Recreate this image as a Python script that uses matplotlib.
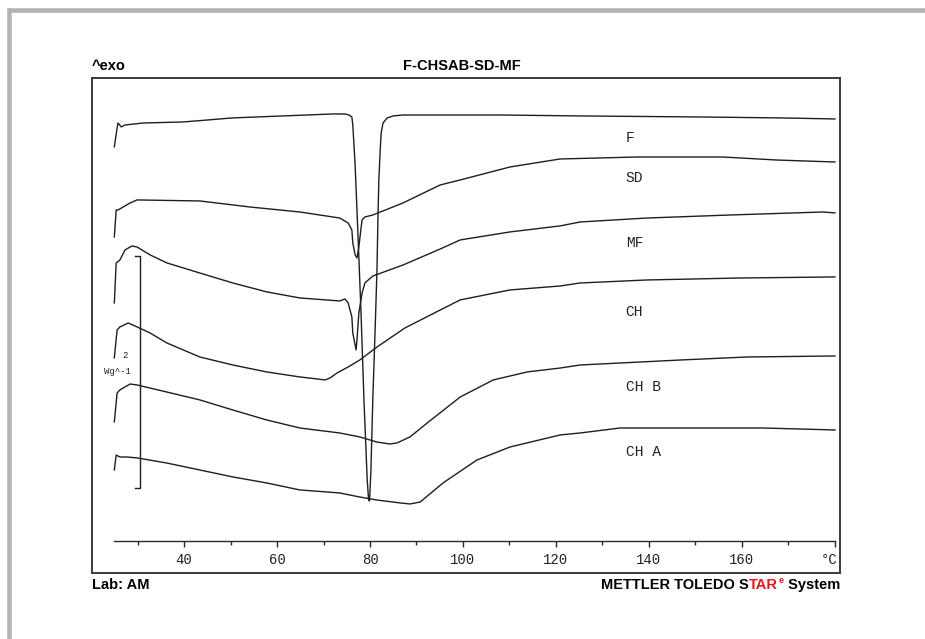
import matplotlib
matplotlib.use('Agg')
import matplotlib.pyplot as plt
from matplotlib.lines import Line2D

# ---------------- data (temperature in °C, heat flow in W/g, curves offset as drawn) ----------------
F_T = [25.0, 25.6, 25.8, 26.5, 27.3, 31.2, 39.8, 50.5, 61.3, 72.0, 74.6, 75.5, 76.1, 76.3, 76.8,
       77.4, 78.1, 78.7, 79.4, 79.7, 79.9, 80.2, 80.6, 81.1, 81.5, 81.7, 81.9, 82.2, 82.4, 82.8,
       83.7, 85.0, 87.1, 97.2, 108.0, 125.2, 151.0, 168.2, 180.0]
F_W = [3.397, 3.560, 3.603, 3.569, 3.586, 3.603, 3.612, 3.647, 3.664, 3.681, 3.681, 3.672, 3.655, 3.586, 3.241,
       2.655, 1.931, 1.216, 0.526, 0.353, 0.345, 0.612, 1.216, 1.819, 2.336, 2.767, 3.112, 3.371, 3.517, 3.603,
       3.647, 3.664, 3.672, 3.672, 3.672, 3.664, 3.655, 3.647, 3.638]

SD_T = [25.0, 25.4, 25.8, 26.9, 28.4, 29.9, 43.4, 54.2, 64.9, 73.5, 75.3, 76.1, 76.3, 76.8, 77.2,
        77.6, 78.1, 78.3, 78.9, 80.6, 87.1, 95.1, 99.4, 110.1, 120.9, 137.4, 155.9, 167.5, 180.0]
SD_W = [2.621, 2.853, 2.853, 2.879, 2.914, 2.940, 2.931, 2.879, 2.836, 2.784, 2.741, 2.681, 2.569, 2.466, 2.440,
        2.534, 2.707, 2.767, 2.793, 2.810, 2.914, 3.069, 3.112, 3.224, 3.293, 3.310, 3.310, 3.284, 3.267]

MF_T = [25.0, 25.4, 26.2, 27.3, 28.8, 29.9, 32.7, 36.3, 43.4, 50.5, 57.8, 64.9, 73.5, 74.6, 75.3,
        76.1, 76.3, 77.0, 77.2, 77.6, 78.3, 78.9, 80.6, 87.1, 95.1, 99.4, 110.1, 120.9, 125.2, 139.6,
        157.4, 177.4, 180.0]
MF_W = [2.052, 2.397, 2.422, 2.509, 2.543, 2.534, 2.466, 2.397, 2.310, 2.224, 2.147, 2.095, 2.069, 2.086, 2.052,
        1.931, 1.793, 1.647, 1.733, 1.966, 2.138, 2.224, 2.284, 2.379, 2.517, 2.595, 2.664, 2.716, 2.750, 2.784,
        2.810, 2.836, 2.828]

CH_T = [25.0, 25.6, 26.2, 28.0, 29.9, 32.7, 36.3, 43.4, 50.5, 57.8, 64.9, 68.6, 70.3, 71.4, 72.9,
        75.3, 77.8, 81.5, 87.5, 95.1, 99.4, 110.1, 120.9, 125.2, 139.6, 159.6, 180.0]
CH_W = [1.578, 1.819, 1.845, 1.879, 1.845, 1.793, 1.707, 1.586, 1.517, 1.457, 1.414, 1.397, 1.388, 1.405, 1.448,
        1.500, 1.560, 1.672, 1.836, 1.991, 2.078, 2.164, 2.198, 2.224, 2.250, 2.267, 2.276]

CHB_T = [25.0, 25.6, 26.2, 27.3, 28.4, 29.9, 36.3, 43.4, 50.5, 57.8, 64.9, 73.5, 77.8, 81.5, 84.3,
         85.8, 88.6, 92.3, 99.4, 106.5, 113.8, 120.9, 125.2, 146.7, 161.1, 180.0]
CHB_W = [1.026, 1.276, 1.302, 1.328, 1.353, 1.345, 1.284, 1.216, 1.129, 1.043, 0.974, 0.931, 0.897, 0.853, 0.836,
         0.845, 0.897, 1.017, 1.241, 1.388, 1.457, 1.491, 1.517, 1.560, 1.586, 1.595]

CHA_T = [25.0, 25.4, 26.2, 27.7, 29.9, 36.3, 43.4, 50.5, 57.8, 64.9, 73.5, 77.8, 81.5, 86.5, 88.6,
         90.8, 95.7, 103.0, 110.1, 120.9, 125.2, 133.8, 164.5, 180.0]
CHA_W = [0.612, 0.741, 0.724, 0.724, 0.716, 0.672, 0.612, 0.552, 0.500, 0.440, 0.414, 0.379, 0.353, 0.328, 0.319,
         0.336, 0.500, 0.698, 0.810, 0.914, 0.931, 0.974, 0.974, 0.957]

curve_names = ['F', 'SD', 'MF', 'CH', 'CH B', 'CH A']
curve_T = [F_T, SD_T, MF_T, CH_T, CHB_T, CHA_T]
curve_W = [F_W, SD_W, MF_W, CH_W, CHB_W, CHA_W]
label_W = [3.474, 3.129, 2.569, 1.974, 1.328, 0.767]
label_T = 135.0

major_ticks = [40, 60, 80, 100, 120, 140, 160]
minor_ticks = [30, 50, 70, 90, 110, 130, 150, 170]
x_start, x_end = 25, 180
scale_T = 30.5
scale_W = (0.457, 2.457)

# ---------------- figure ----------------
W_PX, H_PX = 925, 639
fig = plt.figure(figsize=(W_PX / 100, H_PX / 100), dpi=100)
fig.patch.set_facecolor('white')

# grey page border (top and left)
fig.add_artist(Line2D([7 / W_PX, 1.0], [1 - 10 / H_PX, 1 - 10 / H_PX], color='#b4b4b4', lw=3.3,
                      solid_capstyle='butt', transform=fig.transFigure))
fig.add_artist(Line2D([9 / W_PX, 9 / W_PX], [0.0, 1 - 8 / H_PX], color='#b4b4b4', lw=3.3,
                      solid_capstyle='butt', transform=fig.transFigure))

ax = fig.add_axes([92 / W_PX, 1 - 573 / H_PX, (840 - 92) / W_PX, (573 - 78) / H_PX])
ax.set_xlim(20.2, 181.1)
ax.set_ylim(-0.276, 3.991)
ax.set_xticks([])
ax.set_yticks([])
for s in ax.spines.values():
    s.set_color('#3a3a3a')
    s.set_linewidth(1.4)

line_col = '#1e1e1e'
for T, Wv in zip(curve_T, curve_W):
    ax.plot(T, Wv, color=line_col, lw=1.0, solid_joinstyle='round')

mono = ['Liberation Mono', 'DejaVu Sans Mono']
for name, lw_ in zip(curve_names, label_W):
    ax.text(label_T, lw_, name, family=mono, fontsize=10.5, ha='left', va='center', color='#222222')

# x axis inside the frame
ax.plot([x_start, x_end], [0, 0], color='#2a2a2a', lw=1.0)
ax.vlines(major_ticks, -0.055, 0, color='#2a2a2a', lw=1.0)
ax.vlines(minor_ticks, -0.035, 0, color='#2a2a2a', lw=1.0)
ax.vlines([x_end], -0.05, 0, color='#2a2a2a', lw=1.0)
for t in major_ticks:
    ax.text(t, -0.164, str(t), family=mono, fontsize=10, ha='center', va='center', color='#222222')
ax.text(180.6, -0.164, '°C', family=mono, fontsize=10, ha='right', va='center', color='#222222')

# scale bar
ax.plot([scale_T - 1.1, scale_T, scale_T, scale_T - 1.1],
        [scale_W[0], scale_W[0], scale_W[1], scale_W[1]], color='#1e1e1e', lw=1.0)
ax.text(27.3, 1.603, '2', family=mono, fontsize=6.5, ha='center', va='center', color='#222222')
ax.text(28.6, 1.457, 'Wg^-1', family=mono, fontsize=6.5, ha='right', va='center', color='#222222')

# header / footer texts
sans = ['Liberation Sans', 'DejaVu Sans']
FS = 10.5
fig.text(92 / W_PX, 1 - 66 / H_PX, '^exo', family=sans, weight='bold', fontsize=FS, ha='left', va='center')
fig.text(462 / W_PX, 1 - 66 / H_PX, 'F-CHSAB-SD-MF', family=sans, weight='bold', fontsize=FS,
         ha='center', va='center')
fig.text(92 / W_PX, 1 - 585 / H_PX, 'Lab: AM', family=sans, weight='bold', fontsize=FS, ha='left', va='center')

t1 = fig.text(601 / W_PX, 1 - 585 / H_PX, 'METTLER TOLEDO S', family=sans, weight='bold', fontsize=FS,
              ha='left', va='center')
t2 = ax.annotate('TAR', xy=(1, 0), xycoords=t1, ha='left', va='bottom', family=sans, weight='bold',
                 fontsize=FS, color='#e8141c', annotation_clip=False)
t3 = ax.annotate('e', xy=(1, 0), xycoords=t2, xytext=(0.6, 5.0), textcoords='offset points', ha='left',
                 va='bottom', family=sans, weight='bold', fontsize=6.5, color='#e8141c', annotation_clip=False)
t4 = ax.annotate(' System', xy=(1, 0), xycoords=t2, xytext=(4.5, 0), textcoords='offset points', ha='left',
                 va='bottom', family=sans, weight='bold', fontsize=FS, color='black', annotation_clip=False)

fig.savefig('out.png', dpi=100, facecolor='white')
